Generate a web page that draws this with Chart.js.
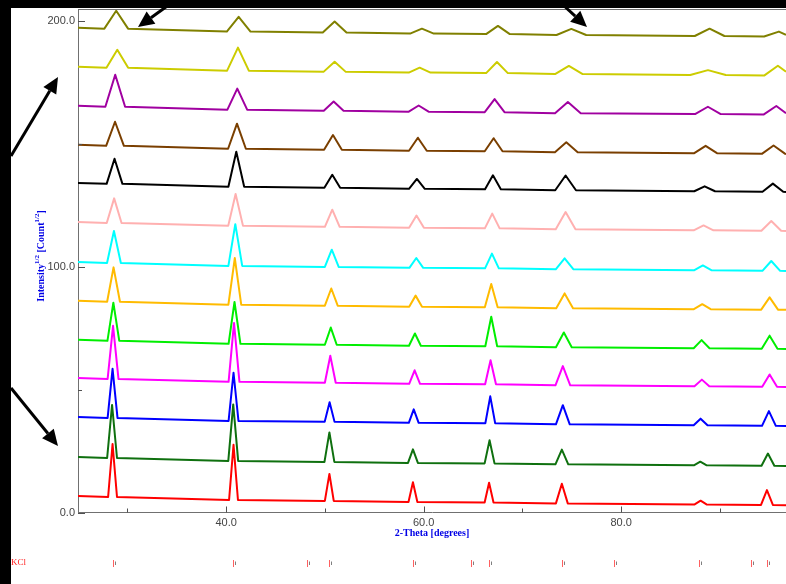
<!DOCTYPE html>
<html>
<head>
<meta charset="utf-8">
<script src="https://cdn.jsdelivr.net/npm/chart.js@4.4.1/dist/chart.umd.min.js"></script>
<style>
  html, body { margin: 0; padding: 0; background: #ffffff; }
  #wrap { width: 786px; height: 584px; position: relative; }
</style>
</head>
<body>
<div id="wrap"><canvas id="c" width="786" height="584"></canvas></div>
<script>
// ---- Data: [2-Theta (deg), Intensity^1/2] ----
const scan01 = [[25,6.7],[28.05,6.3],[28.5,27.9],[28.95,6.3],[40.3,5.1],[40.75,27.6],[41.2,5.1],[50.0,4.7],[50.46,15.7],[50.9,4.7],[58.47,4.3],[58.92,12.3],[59.37,4.3],[66.18,4.1],[66.63,12.1],[67.08,4.1],[73.4,3.7],[74.0,11.7],[74.6,3.7],[87.45,3.3],[88.05,4.8],[88.65,3.3],[94.17,3.1],[94.77,9.1],[95.37,3.1],[96.7,3.0]];
const scan02 = [[25,22.6],[27.95,22.2],[28.45,43.8],[28.95,22.2],[40.22,21.0],[40.72,44.0],[41.22,21.0],[49.96,20.6],[50.46,32.6],[50.96,20.6],[58.42,20.2],[58.92,25.7],[59.42,20.2],[66.18,20.0],[66.68,29.4],[67.18,20.0],[73.35,19.6],[74.0,25.6],[74.65,19.6],[87.37,19.2],[88.02,20.7],[88.67,19.2],[94.22,19.0],[94.87,24.0],[95.52,19.0],[96.7,18.9]];
const scan03 = [[25,38.9],[28.0,38.5],[28.5,58.5],[29.0,38.5],[40.25,37.3],[40.75,56.9],[41.25,37.3],[49.98,36.9],[50.48,44.9],[50.98,36.9],[58.5,36.5],[59.0,42.0],[59.5,36.5],[66.25,36.3],[66.75,47.3],[67.25,36.3],[73.4,35.9],[74.1,43.7],[74.8,35.9],[87.35,35.5],[88.05,38.2],[88.75,35.5],[94.27,35.3],[94.97,41.3],[95.67,35.3],[96.7,35.2]];
const scan04 = [[25,54.8],[28.0,54.4],[28.55,76.0],[29.1,54.4],[40.25,53.2],[40.8,77.2],[41.35,53.2],[50.0,52.8],[50.55,63.8],[51.1,52.8],[58.54,52.4],[59.09,57.9],[59.64,52.4],[66.23,52.2],[66.78,62.0],[67.33,52.2],[73.35,51.8],[74.1,59.6],[74.85,51.8],[87.43,51.4],[88.18,54.1],[88.93,51.4],[94.29,51.2],[95.04,56.2],[95.79,51.2],[96.7,51.1]];
const scan05 = [[25,70.3],[27.98,69.9],[28.58,85.4],[29.18,69.9],[40.25,68.7],[40.85,85.7],[41.45,68.7],[50.0,68.3],[50.6,75.3],[51.2,68.3],[58.52,67.9],[59.12,72.9],[59.72,67.9],[66.25,67.7],[66.85,79.7],[67.45,67.7],[73.4,67.3],[74.2,73.3],[75.0,67.3],[87.35,66.9],[88.15,70.2],[88.95,66.9],[94.24,66.7],[95.04,72.0],[95.84,66.7],[96.7,66.6]];
const scan06 = [[25,86.2],[27.95,85.8],[28.6,99.8],[29.25,85.8],[40.23,84.6],[40.88,103.6],[41.53,84.6],[50.0,84.2],[50.65,91.2],[51.3,84.2],[58.54,83.8],[59.19,88.3],[59.84,83.8],[66.2,83.6],[66.85,93.0],[67.5,83.6],[73.43,83.2],[74.28,89.2],[75.13,83.2],[87.37,82.8],[88.22,84.8],[89.07,82.8],[94.19,82.6],[95.04,87.6],[95.89,82.6],[96.7,82.5]];
const scan07 = [[25,102.0],[27.94,101.6],[28.64,114.6],[29.34,101.6],[40.23,100.4],[40.93,117.4],[41.63,100.4],[50.0,100.0],[50.7,107.0],[51.4,100.0],[58.56,99.6],[59.26,103.6],[59.96,99.6],[66.22,99.4],[66.92,105.4],[67.62,99.4],[73.38,99.0],[74.28,103.5],[75.18,99.0],[87.38,98.6],[88.28,100.6],[89.18,98.6],[94.31,98.4],[95.21,102.4],[96.11,98.4],[96.7,98.3]];
const scan08 = [[25,118.3],[27.91,117.9],[28.66,127.9],[29.41,117.9],[40.21,116.7],[40.96,129.7],[41.71,116.7],[50.0,116.3],[50.75,123.3],[51.5,116.3],[58.53,115.9],[59.28,120.9],[60.03,115.9],[66.2,115.7],[66.95,121.7],[67.7,115.7],[73.38,115.3],[74.38,122.3],[75.38,115.3],[87.35,114.9],[88.35,116.9],[89.35,114.9],[94.21,114.7],[95.21,118.7],[96.21,114.7],[96.7,114.6]];
const scan09 = [[25,134.2],[27.9,133.8],[28.7,144.0],[29.5,133.8],[40.23,132.6],[41.03,146.9],[41.83,132.6],[49.95,132.2],[50.75,137.5],[51.55,132.2],[58.52,131.8],[59.32,135.8],[60.12,131.8],[66.22,131.6],[67.02,137.3],[67.82,131.6],[73.33,131.2],[74.38,137.2],[75.43,131.2],[87.41,130.8],[88.46,132.8],[89.51,130.8],[94.32,130.6],[95.37,133.9],[96.42,130.6],[96.7,130.5]];
const scan10 = [[25,149.7],[27.85,149.3],[28.75,159.1],[29.65,149.3],[40.2,148.1],[41.1,158.3],[42.0,148.1],[49.92,147.7],[50.82,153.7],[51.72,147.7],[58.52,147.3],[59.42,152.6],[60.32,147.3],[66.19,147.1],[67.09,152.4],[67.99,147.1],[73.3,146.7],[74.45,150.7],[75.6,146.7],[87.41,146.3],[88.56,149.3],[89.71,146.3],[94.29,146.1],[95.44,149.4],[96.59,146.1],[96.7,146.0]];
const scan11 = [[25,165.6],[27.77,165.2],[28.77,178.2],[29.77,165.2],[40.13,164.0],[41.13,172.6],[42.13,164.0],[49.89,163.6],[50.89,167.3],[51.89,163.6],[58.5,163.2],[59.5,165.7],[60.5,163.2],[66.19,163.0],[67.19,168.3],[68.19,163.0],[73.31,162.6],[74.61,167.1],[75.91,162.6],[87.49,162.2],[88.79,165.2],[90.09,162.2],[94.42,162.0],[95.72,165.5],[96.7,162.6]];
const scan12 = [[25,181.5],[27.88,181.1],[28.98,188.4],[30.08,181.1],[40.1,179.9],[41.2,189.3],[42.3,179.9],[49.89,179.5],[50.99,183.5],[52.09,179.5],[58.5,179.1],[59.6,181.1],[60.7,179.1],[66.33,178.9],[67.43,183.4],[68.53,178.9],[73.31,178.5],[74.71,181.8],[76.11,178.5],[87.0,178.1],[88.8,180.1],[90.6,178.1],[94.48,177.9],[95.88,181.9],[96.7,179.5]];
const scan13 = [[25,197.4],[27.67,197.0],[28.87,204.3],[30.07,197.0],[40.07,195.8],[41.27,201.8],[42.47,195.8],[49.79,195.4],[50.99,199.9],[52.19,195.4],[58.63,195.0],[59.83,197.0],[61.03,195.0],[66.33,194.8],[67.53,198.1],[68.73,194.8],[73.46,194.4],[74.96,196.9],[76.46,194.4],[87.46,194.0],[88.96,197.0],[90.46,194.0],[94.48,193.8],[95.98,195.8],[96.7,194.5]];

const scans = [scan01, scan02, scan03, scan04, scan05, scan06, scan07, scan08, scan09, scan10, scan11, scan12, scan13];
const scanColors = ['#ff0000','#0f700f','#0000ff','#ff00ff','#00ee00','#ffbb00','#00ffff','#ffb0b0','#000000','#7a3f00','#a000a0','#cccc00','#808000'];

// KCl reference reflections (2-Theta, deg)
const kclRefs = [28.52, 40.69, 48.18, 50.41, 58.92, 64.83, 66.61, 73.97, 79.27, 87.93, 93.13, 94.78];

// axis ticks
const xMajorTicks = [40, 60, 80];
const xMinorTicks = [30, 50, 70, 90];
const yMajorTicks = [0, 100, 200];
const yMinorTicks = [50, 150];

const axisGray = '#707070';
const blue = '#0000e6';

const decorPlugin = {
  id: 'decor',
  afterDraw(chart) {
    const ctx = chart.ctx;
    const area = chart.chartArea;
    const xs = chart.scales.x, ys = chart.scales.y;
    ctx.save();
    // plot top border
    ctx.strokeStyle = axisGray;
    ctx.lineWidth = 1;
    ctx.beginPath();
    ctx.moveTo(area.left, Math.round(area.top) + 0.5);
    ctx.lineTo(area.right, Math.round(area.top) + 0.5);
    ctx.stroke();
    // inside ticks
    ctx.strokeStyle = '#505050';
    const drawXT = (v, len) => {
      const px = Math.round(xs.getPixelForValue(v)) + 0.5;
      ctx.beginPath(); ctx.moveTo(px, area.bottom); ctx.lineTo(px, area.bottom - len); ctx.stroke();
    };
    const drawYT = (v, len) => {
      const py = Math.round(ys.getPixelForValue(v)) + 0.5;
      ctx.beginPath(); ctx.moveTo(area.left, py); ctx.lineTo(area.left + len, py); ctx.stroke();
    };
    xMajorTicks.forEach(v => drawXT(v, 6));
    xMinorTicks.forEach(v => drawXT(v, 4));
    yMajorTicks.forEach(v => drawYT(v, 7));
    yMinorTicks.forEach(v => drawYT(v, 4));

    // y axis title with superscripts
    ctx.save();
    ctx.translate(41, 256);
    ctx.rotate(-Math.PI / 2);
    ctx.fillStyle = blue;
    ctx.textBaseline = 'middle';
    ctx.textAlign = 'left';
    const big = 'bold 10px "Liberation Serif"';
    const small = 'bold 7px "Liberation Serif"';
    const parts = [['Intensity', big, 0], ['1/2', small, -4], [' [Count', big, 0], ['1/2', small, -4], [']', big, 0]];
    let total = 0;
    parts.forEach(p => { ctx.font = p[1]; total += ctx.measureText(p[0]).width; });
    let cx = -total / 2;
    parts.forEach(p => { ctx.font = p[1]; ctx.fillText(p[0], cx, p[2]); cx += ctx.measureText(p[0]).width; });
    ctx.restore();

    // KCl reference strip
    ctx.fillStyle = '#ff2020';
    ctx.font = '9px "Liberation Serif"';
    ctx.textBaseline = 'middle';
    ctx.textAlign = 'left';
    ctx.fillText('KCl', 11, 563);
    kclRefs.forEach(v => {
      const px = Math.round(xs.getPixelForValue(v)) + 0.5;
      ctx.strokeStyle = '#ff6060';
      ctx.beginPath(); ctx.moveTo(px, 560); ctx.lineTo(px, 567); ctx.stroke();
      ctx.strokeStyle = '#808080';
      ctx.beginPath(); ctx.moveTo(px + 2, 561.5); ctx.lineTo(px + 2, 565); ctx.stroke();
    });

    // black frame strips
    ctx.fillStyle = '#000000';
    ctx.fillRect(0, 0, 786, 8);
    ctx.fillRect(0, 0, 11, 584);

    // annotation arrows
    const arrow = (x1, y1, x2, y2) => {
      const ang = Math.atan2(y2 - y1, x2 - x1);
      const hl = 16, hw = 7.5;
      const bx = x2 - hl * Math.cos(ang), by = y2 - hl * Math.sin(ang);
      ctx.strokeStyle = '#000';
      ctx.lineWidth = 3;
      ctx.beginPath(); ctx.moveTo(x1, y1); ctx.lineTo(bx, by); ctx.stroke();
      ctx.fillStyle = '#000';
      ctx.beginPath();
      ctx.moveTo(x2, y2);
      ctx.lineTo(bx + hw * Math.sin(ang), by - hw * Math.cos(ang));
      ctx.lineTo(bx - hw * Math.sin(ang), by + hw * Math.cos(ang));
      ctx.closePath(); ctx.fill();
    };
    arrow(11, 156, 58, 77);
    arrow(11, 388, 58, 446);
    arrow(170, 4, 138, 27);
    arrow(562, 4, 587, 27);
    ctx.restore();
  }
};

new Chart(document.getElementById('c'), {
  type: 'line',
  data: {
    datasets: scans.map((d, i) => ({
      label: 'Scan ' + (i + 1),
      data: d,
      borderColor: scanColors[i],
      backgroundColor: scanColors[i],
      borderWidth: 2,
      pointRadius: 0,
      tension: 0,
      borderJoinStyle: 'round',
      fill: false
    }))
  },
  options: {
    responsive: false,
    animation: false,
    devicePixelRatio: 1,
    layout: { padding: { left: 0, right: 0, top: 9, bottom: 41.5 } },
    plugins: { legend: { display: false }, tooltip: { enabled: false } },
    scales: {
      x: {
        type: 'linear',
        min: 25, max: 96.7,
        afterFit: s => { s.height = 30; s.paddingLeft = 0; s.paddingRight = 0; },
        grid: { display: false, drawTicks: false },
        border: { display: true, color: axisGray, width: 1 },
        ticks: {
          stepSize: 10, autoSkip: false, maxRotation: 0, padding: 4, includeBounds: false,
          color: '#444', font: { family: '"Liberation Sans", Arial', size: 11 },
          callback: v => (xMajorTicks.includes(v) ? v.toFixed(1) : '')
        },
        title: {
          display: true, text: '2-Theta [degrees]', color: blue,
          font: { family: '"Liberation Serif"', size: 10, weight: 'bold' },
          padding: { top: 0, bottom: 3.5 }
        }
      },
      y: {
        type: 'linear',
        min: 0, max: 205,
        afterFit: s => { s.width = 78; s.paddingTop = 0; s.paddingBottom = 0; },
        grid: { display: false, drawTicks: false },
        border: { display: true, color: axisGray, width: 1 },
        ticks: {
          stepSize: 50, autoSkip: false, padding: 3, includeBounds: false,
          color: '#444', font: { family: '"Liberation Sans", Arial', size: 11 },
          callback: v => (yMajorTicks.includes(v) ? v.toFixed(1) : '')
        }
      }
    }
  },
  plugins: [decorPlugin]
});
</script>
</body>
</html>
